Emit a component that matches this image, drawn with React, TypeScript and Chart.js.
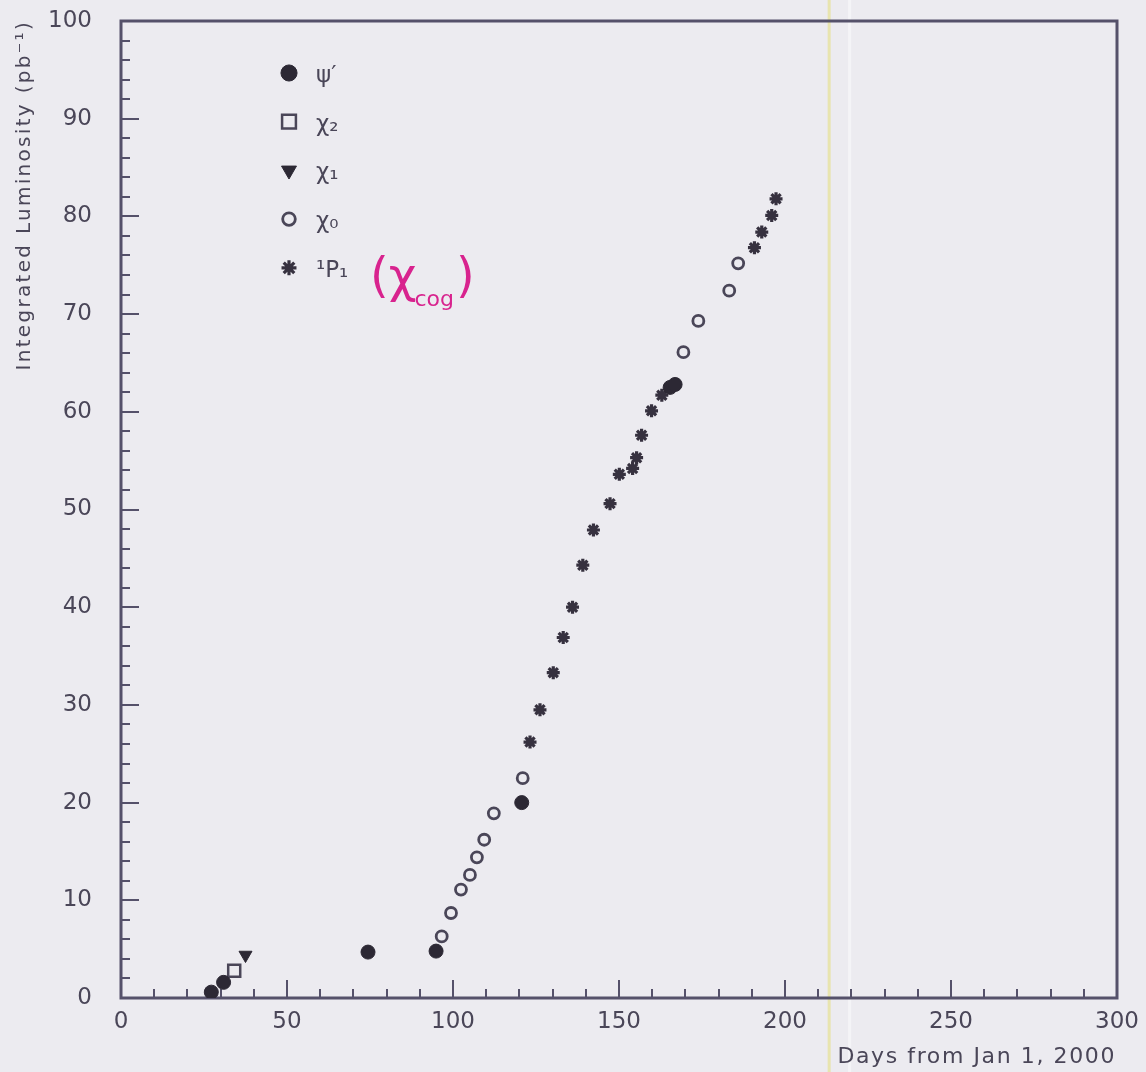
import React, { useEffect, useRef } from "react";
import { Chart, registerables } from "chart.js";
import { drawPoint } from "chart.js/helpers";

Chart.register(...registerables);

// ---- data ----
const psiX = [27.2, 30.9, 74.4, 94.9, 120.7, 165.4, 166.9];
const psiY = [0.6, 1.6, 4.7, 4.8, 20.0, 62.5, 62.8];
const chi2X = [34.1];
const chi2Y = [2.8];
const chi1X = [37.5];
const chi1Y = [4.4];
const chi0X = [96.6, 99.4, 102.4, 105.1, 107.2, 109.4, 112.3, 121.0, 169.4, 173.9, 183.2, 185.9];
const chi0Y = [6.3, 8.7, 11.1, 12.6, 14.4, 16.2, 18.9, 22.5, 66.1, 69.3, 72.4, 75.2];
const p1X = [123.2, 126.2, 130.2, 133.2, 136.0, 139.1, 142.3, 147.3, 150.1, 154.1, 155.3, 156.8, 159.8, 162.9, 190.8, 193.0, 196.0, 197.3];
const p1Y = [26.2, 29.5, 33.3, 36.9, 40.0, 44.3, 47.9, 50.6, 53.6, 54.2, 55.3, 57.6, 60.1, 61.7, 76.8, 78.4, 80.1, 81.8];

const legendLabels = ["ψ′", "χ₂", "χ₁", "χ₀", "¹P₁"];
const handNote = ["(χ", "cog", ")"];
const xTitle = "Days from Jan 1, 2000";
const yTitle = "Integrated Luminosity (pb⁻¹)";
const X_MIN = 0, X_MAX = 300, X_MAJOR = 50, X_MINOR = 10;
const Y_MIN = 0, Y_MAX = 100, Y_MAJOR = 10, Y_MINOR = 2;
const scanLineX = 213.3;

const INK = "#2c2834";
const AXIS = "#55516a";
const TEXT = "#4a4658";
const BG = "#ecebf0";
const FONT = "'DejaVu Sans', sans-serif";

const pts = (xs: number[], ys: number[]) => xs.map((x, i) => ({ x, y: ys[i] }));

const styles: any[] = [
  { pointStyle: "circle", radius: 7, backgroundColor: INK, borderColor: INK, borderWidth: 1, rotation: 0 },
  { pointStyle: "rect", radius: 8.5, backgroundColor: "rgba(0,0,0,0)", borderColor: "#4a4658", borderWidth: 2.5, rotation: 0 },
  { pointStyle: "triangle", radius: 7.5, backgroundColor: INK, borderColor: INK, borderWidth: 1, rotation: 180 },
  { pointStyle: "circle", radius: 5.5, backgroundColor: "rgba(0,0,0,0)", borderColor: "#4a4658", borderWidth: 2.8, rotation: 0 },
  { pointStyle: "star", radius: 6.5, backgroundColor: INK, borderColor: "#36313f", borderWidth: 3.2, rotation: 0 },
];

const decorPlugin = {
  id: "decor",
  beforeDraw(chart: any) {
    const ctx = chart.ctx;
    ctx.save();
    ctx.fillStyle = BG;
    ctx.fillRect(0, 0, chart.width, chart.height);
    const sx = chart.scales.x.getPixelForValue(scanLineX);
    ctx.fillStyle = "rgba(228,222,110,0.5)";
    ctx.fillRect(sx - 1.5, 0, 3, chart.height);
    ctx.fillStyle = "rgba(250,250,252,0.6)";
    ctx.fillRect(sx + 19, 0, 3, chart.height);
    ctx.restore();
  },
  beforeDatasetsDraw(chart: any) {
    const ctx = chart.ctx;
    const { left, right, top, bottom } = chart.chartArea;
    const xs = chart.scales.x, ys = chart.scales.y;
    ctx.save();
    ctx.strokeStyle = AXIS;
    ctx.lineWidth = 2;
    for (let v = X_MIN + X_MINOR; v < X_MAX; v += X_MINOR) {
      const px = Math.round(xs.getPixelForValue(v));
      const len = v % X_MAJOR === 0 ? 18 : 9;
      ctx.beginPath();
      ctx.moveTo(px, bottom);
      ctx.lineTo(px, bottom - len);
      ctx.stroke();
    }
    for (let v = Y_MIN + Y_MINOR; v < Y_MAX; v += Y_MINOR) {
      const py = Math.round(ys.getPixelForValue(v));
      const len = v % Y_MAJOR === 0 ? 18 : 9;
      ctx.beginPath();
      ctx.moveTo(left, py);
      ctx.lineTo(left + len, py);
      ctx.stroke();
    }
    ctx.lineWidth = 3;
    ctx.strokeRect(left, top, right - left, bottom - top);

    // axis titles
    ctx.fillStyle = TEXT;
    ctx.font = `22px ${FONT}`;
    (ctx as any).letterSpacing = "1.6px";
    ctx.textAlign = "right";
    ctx.textBaseline = "alphabetic";
    ctx.fillText(xTitle, right - 1, 1063);
    ctx.save();
    ctx.translate(30, top - 1);
    ctx.rotate(-Math.PI / 2);
    ctx.textAlign = "right";
    ctx.font = `20px ${FONT}`;
    (ctx as any).letterSpacing = "2.3px";
    ctx.fillText(yTitle, 0, 0);
    ctx.restore();
    (ctx as any).letterSpacing = "0px";

    // legend
    const lx = 289, ly0 = 73, dy = 48.7;
    legendLabels.forEach((lab, i) => {
      const y = ly0 + i * dy;
      const s = styles[i];
      ctx.fillStyle = s.backgroundColor;
      ctx.strokeStyle = s.borderColor;
      ctx.lineWidth = s.borderWidth;
      drawPoint(ctx, { pointStyle: s.pointStyle, radius: s.radius * 1.15, rotation: s.rotation, borderWidth: s.borderWidth } as any, lx, y);
      ctx.fillStyle = TEXT;
      ctx.font = `23px ${FONT}`;
      ctx.textAlign = "left";
      ctx.textBaseline = "middle";
      ctx.fillText(lab, 316, y + 3);
    });
    // handwritten note
    const ny = ly0 + 4 * dy;
    const nx = 370;
    ctx.fillStyle = "#d8238e";
    ctx.textBaseline = "alphabetic";
    ctx.font = `48px ${FONT}`;
    ctx.fillText(handNote[0], nx, ny + 24);
    const w0 = ctx.measureText(handNote[0]).width;
    ctx.font = `22px ${FONT}`;
    ctx.fillText(handNote[1], nx + w0 - 2, ny + 38);
    const w1 = ctx.measureText(handNote[1]).width;
    ctx.font = `48px ${FONT}`;
    ctx.fillText(handNote[2], nx + w0 + w1, ny + 24);
    ctx.restore();
  },
};

export default function App() {
  const ref = useRef<HTMLCanvasElement | null>(null);
  useEffect(() => {
    document.body.style.margin = "0";
    document.body.style.background = BG;
    const canvas = ref.current!;
    const sets = [pts(psiX, psiY), pts(chi2X, chi2Y), pts(chi1X, chi1Y), pts(chi0X, chi0Y), pts(p1X, p1Y)];
    const chart = new Chart(canvas, {
      type: "scatter",
      data: {
        datasets: sets.map((d, i) => ({
          label: legendLabels[i],
          data: d,
          showLine: false,
          pointStyle: styles[i].pointStyle,
          pointRadius: styles[i].radius,
          pointHoverRadius: styles[i].radius,
          pointRotation: styles[i].rotation,
          pointBackgroundColor: styles[i].backgroundColor,
          pointBorderColor: styles[i].borderColor,
          pointBorderWidth: styles[i].borderWidth,
        })),
      },
      options: {
        animation: false,
        responsive: false,
        devicePixelRatio: 1,
        layout: { padding: { top: 21, right: 29, left: 0, bottom: 0 } },
        plugins: { legend: { display: false }, tooltip: { enabled: false } },
        scales: {
          x: {
            type: "linear",
            min: X_MIN,
            max: X_MAX,
            grid: { display: false },
            border: { display: false },
            ticks: { stepSize: X_MAJOR, color: TEXT, font: { family: FONT, size: 23 }, padding: 2, maxRotation: 0 },
            afterFit: (s: any) => { s.height = 74; s.paddingLeft = 0; s.paddingRight = 0; },
          },
          y: {
            type: "linear",
            min: Y_MIN,
            max: Y_MAX,
            grid: { display: false },
            border: { display: false },
            ticks: { stepSize: Y_MAJOR, color: TEXT, font: { family: FONT, size: 23 }, padding: 21 },
            afterFit: (s: any) => { s.width = 121; s.paddingTop = 0; s.paddingBottom = 0; },
          },
        },
      },
      plugins: [decorPlugin],
    });
    return () => chart.destroy();
  }, []);
  return <canvas ref={ref} width={1146} height={1072} style={{ display: "block" }} />;
}
